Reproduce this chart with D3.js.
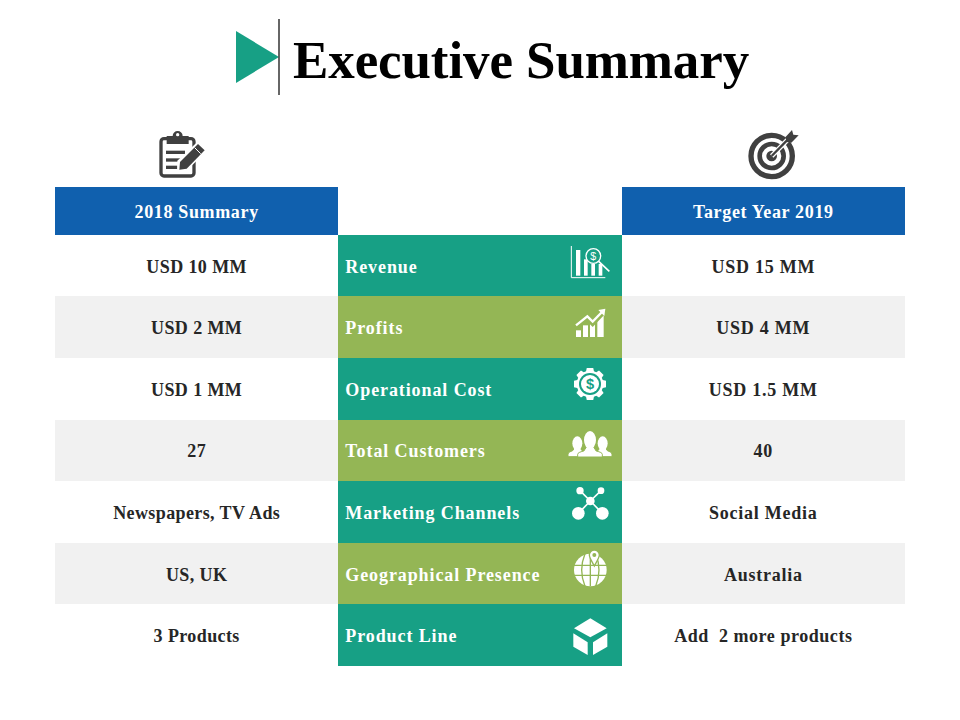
<!DOCTYPE html>
<html><head><meta charset="utf-8">
<script src="https://cdn.jsdelivr.net/npm/d3@7"></script>
<style>html,body{margin:0;background:#fff}svg{display:block}text{font-family:"Liberation Serif",serif;font-weight:700}rect{shape-rendering:crispEdges}</style>
</head><body><div id="c"></div>
<script>
const titleText = "Executive Summary";
const leftHeader = "2018 Summary";
const rightHeader = "Target Year 2019";
const metrics = ["Revenue","Profits","Operational Cost","Total Customers","Marketing Channels","Geographical Presence","Product Line"];
const summary2018 = ["USD 10 MM","USD 2 MM","USD 1 MM","27","Newspapers, TV Ads","US, UK","3 Products"];
const target2019 = ["USD 15 MM","USD 4 MM","USD 1.5 MM","40","Social Media","Australia","Add  2 more products"];
const columns = ["left","mid","right"];

const TEAL="#17A085", GREEN="#94B655", BLUE="#1060AE", GREY="#F1F1F1", INK="#262626", DARK="#404040";
const svg=d3.select("#c").append("svg").attr("width",960).attr("height",720);
const x=d3.scaleBand().domain(columns).range([55,905]);
const y=d3.scaleBand().domain(metrics).range([234.8,666]);
const hdrTop=187;

// title
svg.append("path").attr("d","M236 31L279 57L236 83Z").attr("fill",TEAL);
svg.append("line").attr("x1",279).attr("x2",279).attr("y1",19).attr("y2",95).attr("stroke","#333").attr("stroke-width",1.5);
svg.append("text").attr("x",293).attr("y",78).attr("font-size",53).attr("letter-spacing",-0.1).attr("fill","#000").text(titleText);

// headers
[["left",leftHeader],["right",rightHeader]].forEach(([k,t])=>{
  svg.append("rect").attr("x",x(k)).attr("y",hdrTop).attr("width",x.bandwidth()).attr("height",235-hdrTop).attr("fill",BLUE);
  svg.append("text").attr("x",x(k)+x.bandwidth()/2).attr("y",218).attr("text-anchor","middle").attr("font-size",18).attr("letter-spacing",0.65).attr("fill","#fff").text(t);
});

// rows
const rows=svg.selectAll("g.row").data(metrics).join("g").attr("class","row");
rows.append("rect").attr("x",x("left")).attr("width",850).attr("y",d=>y(d)).attr("height",y.bandwidth()).attr("fill",(d,i)=>i%2?GREY:"#fff");
rows.append("rect").attr("x",x("mid")).attr("width",x.bandwidth()).attr("y",d=>y(d)).attr("height",y.bandwidth()).attr("fill",(d,i)=>i%2?GREEN:TEAL);
rows.append("text").attr("x",x("mid")+7).attr("y",d=>y(d)+y.bandwidth()/2+7).attr("font-size",18).attr("letter-spacing",0.9).attr("fill","#fff").text(d=>d);
rows.append("text").attr("x",x("left")+x.bandwidth()/2).attr("y",d=>y(d)+y.bandwidth()/2+7).attr("text-anchor","middle").attr("font-size",18).attr("letter-spacing",0.4).attr("fill",INK).text((d,i)=>summary2018[i]);
rows.append("text").attr("x",x("right")+x.bandwidth()/2).attr("y",d=>y(d)+y.bandwidth()/2+7).attr("text-anchor","middle").attr("font-size",18).attr("letter-spacing",(d,i)=>i===6?0.55:0.75).attr("fill",INK).style("white-space","pre").text((d,i)=>target2019[i]);

// icon helper: drawn in 3x crop space
const icon=(ox,oy)=>svg.append("g").attr("transform",`translate(${ox},${oy}) scale(${1/3})`);
const W="#fff";

// clipboard
{const g=icon(130,120);
 g.append("rect").style("shape-rendering","auto").attr("x",93).attr("y",56).attr("width",99).attr("height",112).attr("rx",9).attr("fill","none").attr("stroke",DARK).attr("stroke-width",10);
 g.append("path").attr("d","M110 72V48H128A15 15 0 0 1 158 48H176V72Z").attr("fill",DARK);
 g.append("circle").attr("cx",143).attr("cy",44).attr("r",5).attr("fill","#fff");
 [[108,165,97],[108,160,120],[108,142,142]].forEach(([a,b,c])=>g.append("line").attr("x1",a).attr("x2",b).attr("y1",c).attr("y2",c).attr("stroke",DARK).attr("stroke-width",10));
 g.append("path").attr("d","M142 122L202 66L230 92L170 152L142 154Z").attr("fill","#fff");
 g.append("path").attr("d","M150 126L204 72L224 91L170 146L148 149Z").attr("fill",DARK);
 g.append("line").attr("x1",194).attr("y1",83).attr("x2",212).attr("y2",101).attr("stroke","#fff").attr("stroke-width",3);
}
// target
{const g=icon(720,120);
 g.append("circle").attr("cx",155).attr("cy",108).attr("r",62).attr("fill","none").attr("stroke",DARK).attr("stroke-width",16);
 g.append("circle").attr("cx",155).attr("cy",108).attr("r",36).attr("fill","none").attr("stroke",DARK).attr("stroke-width",14);
 g.append("circle").attr("cx",155).attr("cy",108).attr("r",16).attr("fill",DARK);
 g.append("line").attr("x1",155).attr("y1",108).attr("x2",214).attr("y2",48).attr("stroke","#fff").attr("stroke-width",14);
 g.append("line").attr("x1",155).attr("y1",108).attr("x2",212).attr("y2",50).attr("stroke",DARK).attr("stroke-width",7);
 g.append("path").attr("d","M196 52L216 30L220 44L236 46L214 68L200 66Z").attr("fill",DARK);
}
// revenue
{const g=icon(550,236);
 g.append("path").attr("d","M64 30V125H166").attr("fill","none").attr("stroke",W).attr("stroke-width",3);
 [[78,42,13],[102,70,11],[124,84,11],[146,84,11]].forEach(([a,t,w])=>g.append("rect").style("shape-rendering","auto").attr("x",a).attr("y",t).attr("width",w).attr("height",119-t).attr("fill",W));
 g.append("circle").attr("cx",130).attr("cy",60).attr("r",22).attr("fill",TEAL).attr("stroke",W).attr("stroke-width",4);
 g.append("line").attr("x1",146).attr("y1",76).attr("x2",178).attr("y2",106).attr("stroke",W).attr("stroke-width",5);
 g.append("text").attr("x",130).attr("y",72).attr("text-anchor","middle").attr("font-size",32).attr("fill",W).style("font-family","Liberation Sans").style("font-weight",400).text("$");
}
// profits
{const g=icon(550,236);
 [[78,283,15],[99,268,15],[120,262,15],[142,238,19]].forEach(([a,t,w])=>g.append("rect").style("shape-rendering","auto").attr("x",a).attr("y",t).attr("width",w).attr("height",303-t).attr("fill",W));
 g.append("path").attr("d","M76 276L112 250L128 266L158 234").attr("fill","none").attr("stroke",GREEN).attr("stroke-width",10);
 g.append("path").attr("d","M78 268L112 241L128 257L156 228").attr("fill","none").attr("stroke",W).attr("stroke-width",7);
 g.append("path").attr("d","M145 222L166 218L163 240Z").attr("fill",W);
}
// gear
{const g=icon(550,360), cx=120, cy=72, n=8, pts=[];
 for(let i=0;i<n;i++){const a=i/n*2*Math.PI-Math.PI/2;
  [[-0.3,40],[-0.2,49],[0.2,49],[0.3,40]].forEach(([d,r])=>pts.push([cx+r*Math.cos(a+d),cy+r*Math.sin(a+d)]));}
 g.append("path").attr("d",d3.line().curve(d3.curveLinearClosed)(pts)).attr("fill",W);
 g.append("circle").attr("cx",cx).attr("cy",cy).attr("r",33).attr("fill",TEAL);
 g.append("circle").attr("cx",cx).attr("cy",cy).attr("r",27).attr("fill",W);
 g.append("text").attr("x",cx).attr("y",cy+16).attr("text-anchor","middle").attr("font-size",44).attr("fill",TEAL).style("font-family","Liberation Sans").text("$");
}
// people
{const g=icon(550,360);
 const person=(cx,hy,rx,ry,bw,top,bot)=>{
  g.append("path").attr("d",`M${cx-bw} ${bot}V${bot-8}Q${cx-bw} ${bot-14} ${cx-bw*0.5} ${bot-18}L${cx-rx*0.5} ${top}H${cx+rx*0.5}L${cx+bw*0.5} ${bot-18}Q${cx+bw} ${bot-14} ${cx+bw} ${bot-8}V${bot}Z`).attr("fill",W).attr("stroke",GREEN).attr("stroke-width",3);
  g.append("ellipse").attr("cx",cx).attr("cy",hy).attr("rx",rx).attr("ry",ry).attr("fill",W);
 };
 person(82,250,15,21,28,262,290);
 person(158,250,15,21,28,262,290);
 person(120,240,18,27,37,258,291);
}
// network
{const g=icon(550,480), hub=[121,63], nodes=[[90,32,11],[153,32,10],[85,100,19],[157,100,19]];
 nodes.forEach(n=>{g.append("line").attr("x1",hub[0]).attr("y1",hub[1]).attr("x2",n[0]).attr("y2",n[1]).attr("stroke",W).attr("stroke-width",5);
  g.append("circle").attr("cx",n[0]).attr("cy",n[1]).attr("r",n[2]).attr("fill",W);});
 g.append("circle").attr("cx",hub[0]).attr("cy",hub[1]).attr("r",13).attr("fill",W);
}
// globe
{const g=icon(550,480), cx=121, cy=270, r=49;
 g.append("circle").attr("cx",cx).attr("cy",cy).attr("r",r).attr("fill",W);
 const l=d=>g.append("path").attr("d",d).attr("fill","none").attr("stroke",GREEN).attr("stroke-width",4);
 l(`M${cx-r} ${cy-14}H${cx+r}`);l(`M${cx-r} ${cy+16}H${cx+r}`);
 l(`M${cx} ${cy-r}V${cy+r}`);l(`M${cx-16} ${cy-r}Q${cx-36} ${cy} ${cx-16} ${cy+r}`);l(`M${cx+16} ${cy-r}Q${cx+36} ${cy} ${cx+16} ${cy+r}`);
 g.append("path").attr("d","M133 258C122 238 118 232 118 225A15 15 0 0 1 148 225C148 232 144 238 133 258Z").attr("fill",W).attr("stroke",GREEN).attr("stroke-width",4);
 g.append("circle").attr("cx",133).attr("cy",225).attr("r",6).attr("fill",GREEN);
}
// cube
{const g=icon(550,480);
 ["M121 415L170 445L121 472L72 445Z","M70 460L113 487V525L70 500Z","M172 460L129 487V525L172 500Z"].forEach(d=>g.append("path").attr("d",d).attr("fill",W));
}
</script></body></html>
